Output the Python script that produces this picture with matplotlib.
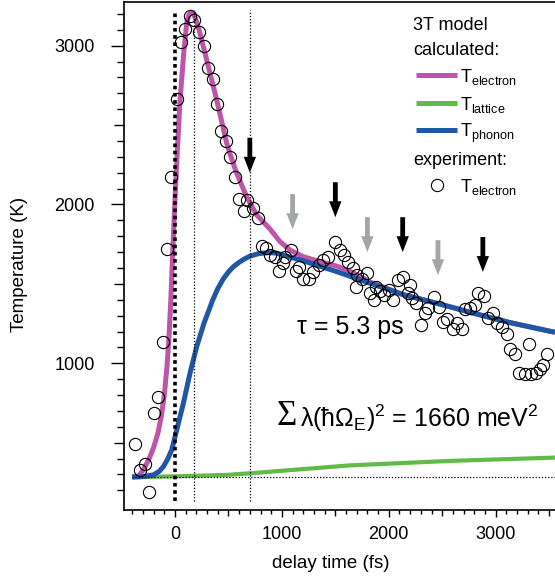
import matplotlib
matplotlib.use("Agg")
import matplotlib.pyplot as plt
from matplotlib.lines import Line2D
from matplotlib.ticker import FixedLocator, FuncFormatter

plt.rcParams['font.family'] = ['Liberation Sans', 'DejaVu Sans']
plt.rcParams['mathtext.fontset'] = 'custom'
plt.rcParams['mathtext.rm'] = 'Liberation Sans'
plt.rcParams['mathtext.it'] = 'Liberation Sans:italic'
plt.rcParams['mathtext.bf'] = 'Liberation Sans:bold'

# ---------------- data ----------------
exp_t = [-371, -327, -281, -240, -199, -156, -115, -72, -33, 21, 56, 96, 136, 181, 226, 273,
         311, 354, 395, 432, 479, 510, 563, 599, 678, 647, 732, 775, 816, 853, 889, 938,
         1029, 1013, 976, 1082, 1132, 1163, 1200, 1256, 1294, 1350, 1387, 1434, 1497, 1544,
         1581, 1622, 1663, 1705, 1793, 1746, 1693, 1824, 1880, 1918, 1955, 1862, 2005, 2042,
         2089, 2136, 2183, 2217, 2255, 2198, 2297, 2339, 2370, 2423, 2473, 2510, 2547, 2598,
         2635, 2682, 2713, 2760, 2807, 2838, 2891, 2931, 2972, 3015, 3056, 3103, 3134, 3181,
         3315, 3221, 3274, 3327, 3377, 3415, 3446, 3478]
exp_T = [494, 328, 366, 191, 689, 786, 1136, 1718, 2173, 2663, 3023, 3103, 3189, 3162, 3084, 2996,
         2859, 2789, 2631, 2462, 2401, 2296, 2176, 2036, 2030, 1957, 1976, 1912, 1737, 1727, 1682, 1667,
         1671, 1633, 1583, 1713, 1583, 1608, 1529, 1533, 1577, 1619, 1650, 1667, 1766, 1713,
         1682, 1640, 1598, 1556, 1567, 1529, 1479, 1445, 1479, 1455, 1430, 1399, 1462, 1399,
         1525, 1545, 1441, 1411, 1378, 1493, 1241, 1319, 1346, 1416, 1356, 1257, 1277, 1214,
         1256, 1214, 1340, 1351, 1367, 1441, 1424, 1283, 1315, 1252, 1227, 1183, 1088, 1057,
         1122, 941, 933, 933, 941, 962, 989, 1059]

el_t = [-400, -340, -300, -260, -234, -200, -160, -130, -100, -75, -55, -38, -20, 0, 22, 47,
        84, 109, 130, 150, 175, 197, 234, 312, 390, 484, 514, 577, 670, 764, 889, 982,
        1076, 1200, 1356, 1513, 1650, 1824, 2136, 2510, 2822, 3134, 3555]
el_T = [285, 292, 325, 375, 412, 470, 560, 660, 800, 980, 1180, 1420, 1720, 2040, 2343, 2658,
        2973, 3140, 3195, 3210, 3195, 3162, 3078, 2868, 2658, 2385, 2320, 2196, 2049, 1934, 1845, 1766,
        1713, 1671, 1640, 1612, 1575, 1512, 1432, 1367, 1310, 1256, 1195]

ph_t = [-400, -300, -203, -150, -109, -70, -31, 16, 78, 140, 203, 270, 353, 400, 450, 500,
        546, 600, 650, 702, 780, 870, 950, 1200, 1513, 1824, 2136, 2510, 2822, 3134, 3555]
ph_T = [283, 286, 297, 318, 349, 395, 454, 580, 748, 937, 1105, 1250, 1399, 1470, 1530, 1575,
        1608, 1636, 1657, 1675, 1690, 1697, 1694, 1645, 1577, 1504, 1432, 1367, 1310, 1256, 1195]

lat_t = [-400, 0, 481, 700, 889, 1637, 2570, 3555]
lat_T = [283, 288, 297, 307, 317, 357, 385, 406]

baseline_T = 283
vline_thick_t = [0]
vline_thin_t = [180, 700]

arrow_black_t = [700, 1500, 2130, 2880]
arrow_black_top = [2420, 2140, 1920, 1795]
arrow_gray_t = [1100, 1800, 2460]
arrow_gray_top = [2065, 1920, 1775]
arrow_len = 220

x_major = [0, 1000, 2000, 3000]
x_mid = [500, 1500, 2500, 3500]
x_minor = list(range(-400, 3600, 100))
y_major = [1000, 2000, 3000]
y_mid = [500, 1500, 2500]
y_minor = list(range(200, 3300, 100))

C_EL = '#c054a8'
C_LAT = '#62bb46'
C_PH = '#1f57a5'
C_GRAY = '#a3a5a7'

# ---------------- figure ----------------
W, H = 555, 579
fig = plt.figure(figsize=(W / 100, H / 100), dpi=100)
ax = fig.add_axes([123.5 / W, 1 - 510 / H, (W - 123.5) / W, (510 - 2) / H])

def fx(px):
    return px / W

def fy(py):
    return 1 - py / H

ax.set_xlim(-482, 3555)
ax.set_ylim(76, 3275)

ax.plot(lat_t, lat_T, color=C_LAT, lw=3.0, solid_capstyle='butt', solid_joinstyle='round', zorder=2)
ax.plot(el_t, el_T, color=C_EL, lw=3.6, solid_capstyle='butt', solid_joinstyle='round', zorder=3)
ax.plot(ph_t, ph_T, color=C_PH, lw=3.6, solid_capstyle='butt', solid_joinstyle='round', zorder=4)

ax.hlines(baseline_T, -400, 3555, colors='black', lw=0.9, linestyles=(0, (1, 1.5)), zorder=5)
ax.vlines(vline_thick_t, 135, 3225, colors='black', lw=2.6, linestyles=(0, (1, 1)), zorder=5)
ax.vlines(vline_thin_t, 135, 3225, colors='black', lw=0.9, linestyles=(0, (1, 1.5)), zorder=5)

ax.plot(exp_t, exp_T, linestyle='none', marker='o', markersize=8.8, markerfacecolor='none',
        markeredgecolor='black', markeredgewidth=0.8, zorder=6)

for t, top in zip(arrow_black_t, arrow_black_top):
    ax.arrow(t, top, 0, -arrow_len, width=45, head_width=115, head_length=100,
             length_includes_head=True, color='black', lw=0, zorder=7)
for t, top in zip(arrow_gray_t, arrow_gray_top):
    ax.arrow(t, top, 0, -arrow_len, width=45, head_width=115, head_length=100,
             length_includes_head=True, color=C_GRAY, lw=0, zorder=7)

# spines / ticks
ax.spines['right'].set_visible(False)
for s in ['left', 'bottom', 'top']:
    ax.spines[s].set_linewidth(1.2)

ax.xaxis.set_major_locator(FixedLocator(x_major + x_mid))
ax.xaxis.set_minor_locator(FixedLocator(x_minor))
ax.yaxis.set_major_locator(FixedLocator(y_major + y_mid))
ax.yaxis.set_minor_locator(FixedLocator(y_minor))
fmt = FuncFormatter(lambda v, p: '%d' % v if int(round(v)) % 1000 == 0 else '')
ax.xaxis.set_major_formatter(fmt)
ax.yaxis.set_major_formatter(fmt)

ax.tick_params(axis='x', which='major', direction='out', length=5.2, width=1.0, labelsize=13, pad=6.5)
ax.tick_params(axis='x', which='minor', direction='out', length=2.9, width=1.0)
ax.tick_params(axis='y', which='major', direction='out', length=9.7, width=1.0, labelsize=13, pad=11)
ax.tick_params(axis='y', which='minor', direction='out', length=5.4, width=1.0)
ax.tick_params(top=False, right=False, which='both')

for tick, loc in zip(ax.xaxis.get_major_ticks(), x_major + x_mid):
    if loc in x_mid:
        tick.tick1line.set_markersize(4.0)
for tick, loc in zip(ax.yaxis.get_major_ticks(), y_major + y_mid):
    if loc in y_mid:
        tick.tick1line.set_markersize(7.2)

ax.set_xlabel('delay time (fs)', fontsize=13.5)
ax.xaxis.label.set_va('center')
ax.xaxis.set_label_coords((331 - 123.5) / 431.5, (510 - 563) / 508)
ax.set_ylabel('Temperature (K)', fontsize=13.5)
ax.yaxis.label.set_va('center')
ax.yaxis.set_label_coords((20 - 123.5) / 431.5, (510 - 264) / 508)

# annotations
ax.text(1141, 1229, 'τ = 5.3 ps', fontsize=18, va='center', ha='left', zorder=8)
ax.text(1050, 665, 'Σ', fontsize=25, family=['Liberation Serif', 'DejaVu Serif'],
        va='center', ha='center', zorder=8)
ax.text(1165, 655, r'λ(ħΩ$_\mathregular{E}$)$^\mathregular{2}$ = 1660 meV$^\mathregular{2}$',
        fontsize=18, va='center', ha='left', zorder=8)

# legend (manual)
LFS = 13
fig.text(fx(413), fy(30), '3T model', fontsize=LFS, va='baseline', ha='left')
fig.text(fx(413), fy(55), 'calculated:', fontsize=LFS, va='baseline', ha='left')
for yy, col, lab in [(75, C_EL, 'electron'), (103, C_LAT, 'lattice'), (130, C_PH, 'phonon')]:
    fig.add_artist(Line2D([fx(416), fx(457)], [fy(yy), fy(yy)], color=col, lw=3.6,
                          solid_capstyle='butt', transform=fig.transFigure))
    fig.text(fx(460), fy(yy + 7), r'T$_\mathregular{%s}$' % lab, fontsize=LFS,
             va='baseline', ha='left')
fig.text(fx(413), fy(165), 'experiment:', fontsize=LFS, va='baseline', ha='left')
fig.add_artist(Line2D([fx(437)], [fy(185)], linestyle='none', marker='o', markersize=8.8,
                      markerfacecolor='none', markeredgecolor='black', markeredgewidth=0.8,
                      transform=fig.transFigure))
fig.text(fx(460), fy(192), r'T$_\mathregular{electron}$', fontsize=LFS, va='baseline', ha='left')

fig.savefig('out.png', dpi=100)
